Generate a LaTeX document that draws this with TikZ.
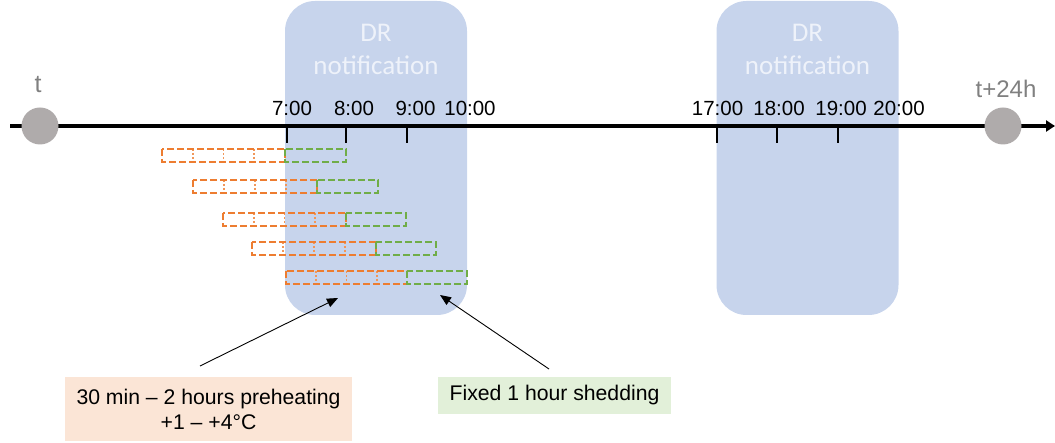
\documentclass[tikz,border=0pt]{standalone}
\usepackage{fontspec}
\setmainfont{Liberation Sans}
\newfontfamily\calib{Carlito}
\usetikzlibrary{arrows.meta}
\definecolor{drblue}{RGB}{199,212,236}
\definecolor{drtext}{RGB}{238,242,250}
\definecolor{circgray}{RGB}{175,171,171}
\definecolor{lblgray}{RGB}{128,128,128}
\definecolor{orng}{RGB}{237,125,49}
\definecolor{grn}{RGB}{112,173,71}
\definecolor{orfill}{RGB}{251,229,214}
\definecolor{grfill}{RGB}{226,240,217}
\tikzset{
  drbox/.style={fill=drblue, draw=none, rounded corners=30pt, minimum width=182pt, minimum height=314pt, inner sep=0pt, outer sep=0pt},
  drlabel/.style={text=drtext, font=\calib\fontsize{27}{33}\selectfont, anchor=base, inner sep=0pt},
  axisline/.style={line width=3.2pt, -{Triangle[length=9pt,width=11pt]}},
  tickline/.style={line width=2.3pt},
  timelbl/.style={font=\fontsize{20.5}{24}\selectfont, anchor=base, inner sep=0pt},
  circ/.style={circle, fill=circgray, draw=none, minimum size=37pt, inner sep=0pt},
  glabel/.style={text=lblgray, anchor=base, inner sep=0pt},
  orbox/.style={draw=orng, line width=2.2pt, dash pattern=on 7pt off 3pt},
  grbox/.style={draw=grn, line width=2.2pt, dash pattern=on 7pt off 3pt},
  divider/.style={draw=orng!80, line width=1.6pt, dash pattern=on 2pt off 2pt},
  pointer/.style={line width=0.9pt, -{Triangle[length=11pt,width=9pt]}},
  orlabel/.style={fill=orfill, minimum width=287pt, minimum height=64pt, align=center, font=\fontsize{21.2}{25}\selectfont, inner sep=0pt},
  grlabel/.style={fill=grfill, minimum width=233pt, minimum height=37pt, align=center, font=\fontsize{21.2}{25}\selectfont, inner sep=0pt},
}
\begin{document}
\begin{tikzpicture}[x=1pt,y=-1pt]
\useasboundingbox (0,0) rectangle (1055,443);
% DR notification windows
\node[drbox] (dr1) at (376,158) {};
\node[drbox] (dr2) at (807.5,158) {};
\node[drlabel] (dr1a) at (376,42) {DR};
\node[drlabel] (dr1b) at (376,75) {notification};
\node[drlabel] (dr2a) at (807.5,42) {DR};
\node[drlabel] (dr2b) at (807.5,75) {notification};
% axis
\coordinate (axs) at (10,126);
\coordinate (axe) at (1055,126);
\draw[axisline] (axs) -- (axe);
\node[circ] (t0) at (40,126) {};
\node[circ] (t24) at (1003,126) {};
\node[glabel, font=\fontsize{25}{30}\selectfont] (tl) at (38,93) {t};
\node[glabel, font=\fontsize{24}{28}\selectfont] (t24l) at (1006,98) {t+24h};
% ticks
\foreach \x/\n in {287/k7, 346/k8, 407/k9, 717/k17, 777/k18, 838/k19}
  \draw[tickline] (\x,126) -- (\x,143);
\node[timelbl] (l7) at (292,116) {7:00};
\node[timelbl] (l8) at (354,116) {8:00};
\node[timelbl] (l9) at (415.5,116) {9:00};
\node[timelbl] (l10) at (470,116) {10:00};
\node[timelbl] (l17) at (717.5,116) {17:00};
\node[timelbl] (l18) at (779,116) {18:00};
\node[timelbl] (l19) at (841,116) {19:00};
\node[timelbl] (l20) at (899,116) {20:00};
% preheating and shedding bars
\foreach \a/\b/\c/\y in {162/285/346/149, 193/317/378/180, 223/346/406/213, 252/376/436/242, 286/407/467/271} {
  \foreach \k in {1,2,3}
    \draw[divider] ({\a+\k*(\b-\a)/4},\y) -- ({\a+\k*(\b-\a)/4},\y+13);
  \draw[orbox] (\a,\y) rectangle (\b,\y+13);
  \draw[grbox] (\b,\y) rectangle (\c,\y+13);
}
% labels and pointers
\node[orlabel] (lab1) at (208.5,409) {30 min -- 2 hours preheating\\+1 -- +4°C};
\node[grlabel] (lab2) at (554.5,395.5) {Fixed 1 hour shedding};
\coordinate (s1) at (200,366);
\coordinate (p1) at (338,298);
\coordinate (s2) at (549,369);
\coordinate (p2) at (440,295);
\draw[pointer] (s1) -- (p1);
\draw[pointer] (s2) -- (p2);
\end{tikzpicture}
\end{document}
